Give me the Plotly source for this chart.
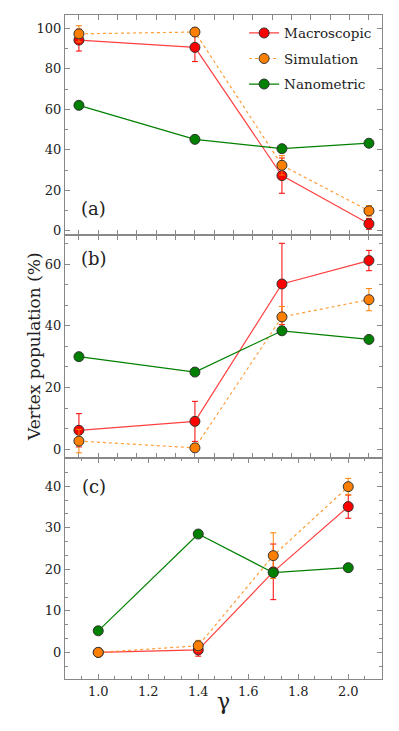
import plotly.graph_objects as go
from plotly.subplots import make_subplots

gamma = [1.0, 1.4, 1.7, 2.0]

# panel (a)
macro_a = [94.2, 90.6, 27.3, 3.5]
macro_a_err = [5.4, 7.0, 8.7, 2.7]
sim_a = [97.3, 98.2, 32.4, 9.9]
sim_a_err = [4.0, 2.0, 4.8, 2.6]
nano_a = [62.0, 45.2, 40.6, 43.3]

# panel (b)
macro_b = [6.1, 9.0, 53.6, 61.2]
macro_b_err = [5.4, 6.5, 13.2, 3.3]
sim_b = [2.6, 0.4, 42.9, 48.5]
sim_b_err = [3.8, 0.5, 3.4, 3.6]
nano_b = [30.0, 25.0, 38.4, 35.6]

# panel (c)
macro_c = [0.0, 0.6, 19.4, 35.1]
macro_c_err = [0.0, 1.5, 6.7, 2.8]
sim_c = [0.0, 1.6, 23.3, 39.9]
sim_c_err = [0.0, 1.3, 5.5, 2.0]
nano_c = [5.2, 28.5, 19.2, 20.4]

panels = [
    ("(a)", macro_a, macro_a_err, sim_a, sim_a_err, nano_a),
    ("(b)", macro_b, macro_b_err, sim_b, sim_b_err, nano_b),
    ("(c)", macro_c, macro_c_err, sim_c, sim_c_err, nano_c),
]

RED = "#ff0000"
ORANGE = "#ff8000"
GREEN = "#008000"
FONT = "DejaVu Serif"

fig = make_subplots(rows=3, cols=1, vertical_spacing=0)

for i, (lab, mac, mac_e, sim, sim_e, nano) in enumerate(panels):
    row = i + 1
    show = (i == 0)
    fig.add_trace(go.Scatter(
        x=gamma, y=mac, name="Macroscopic", mode="lines+markers", legendgroup="m",
        line=dict(color="rgba(255,0,0,0.75)", width=1.2),
        marker=dict(color=RED, size=10, line=dict(color="#333", width=1)),
        error_y=dict(type="data", array=mac_e, color=RED, thickness=1, width=3),
        showlegend=show, legendrank=1), row=row, col=1)
    fig.add_trace(go.Scatter(
        x=gamma, y=sim, name="Simulation", mode="lines+markers", legendgroup="s",
        line=dict(color="rgba(255,140,20,0.85)", width=1.2, dash="dot"),
        marker=dict(color=ORANGE, size=10, line=dict(color="#333", width=1)),
        error_y=dict(type="data", array=sim_e, color=ORANGE, thickness=1, width=3),
        showlegend=show, legendrank=2), row=row, col=1)
    fig.add_trace(go.Scatter(
        x=gamma, y=nano, name="Nanometric", mode="lines+markers", legendgroup="n",
        line=dict(color=GREEN, width=1.2),
        marker=dict(color=GREEN, size=10, line=dict(color="#333", width=1)),
        showlegend=show, legendrank=3), row=row, col=1)

# panel placement
dom = [[0.6687, 1.0], [0.3328, 0.6687], [0.0, 0.3328]]
yranges = [[-2.0, 106.6], [-2.9, 69.5], [-6.4, 46.8]]
yminor = [10, 20 / 3, 10 / 3]
label_x = [1.0, 1.0, 0.928]
label_y = [11, 62, 40]

axis_common = dict(
    showline=True, linecolor="#888", linewidth=1.2, mirror="ticks",
    ticks="inside", ticklen=5, tickcolor="#888", showgrid=False, zeroline=False,
    tickfont=dict(family=FONT, size=13, color="#222"),
)

for i in range(3):
    row = i + 1
    fig.update_yaxes(domain=dom[i], range=yranges[i], dtick=20 if i < 2 else 10,
                     minor=dict(dtick=yminor[i], ticks="inside", ticklen=3, tickcolor="#888"),
                     automargin=False, row=row, col=1, **axis_common)
    if i < 2:
        fig.update_xaxes(range=[0.952, 2.045], tick0=1.0, dtick=1 / 15, showticklabels=False,
                         automargin=False, row=row, col=1, **axis_common)
    else:
        fig.update_xaxes(range=[0.867, 2.135], tick0=1.0, dtick=0.2, tickformat=".1f",
                         minor=dict(dtick=0.2 / 3, ticks="inside", ticklen=3, tickcolor="#888"),
                         automargin=False, row=row, col=1, **axis_common)
    fig.add_annotation(text=panels[i][0], x=label_x[i], y=label_y[i],
                       xref=f"x{row}" if row > 1 else "x", yref=f"y{row}" if row > 1 else "y",
                       xanchor="left", yanchor="middle", showarrow=False,
                       font=dict(family=FONT, size=18, color="#222"))

# page body has an 8px margin, so the margins are shifted to compensate
fig.update_layout(
    width=399, height=731,
    margin=dict(l=57, r=25, t=7, b=60),
    plot_bgcolor="white", paper_bgcolor="white",
    font=dict(family=FONT, color="#222"),
    legend=dict(x=0.565, y=0.996, xref="paper", yref="paper", xanchor="left", yanchor="top",
                bgcolor="rgba(0,0,0,0)", font=dict(family=FONT, size=13.5, color="#222"),
                tracegroupgap=5, itemwidth=30),
    annotations=list(fig.layout.annotations) + [
        dict(text="Vertex population (%)", x=0.0, y=0.5, xref="paper", yref="paper",
             xshift=-43, textangle=-90, showarrow=False,
             font=dict(family=FONT, size=17, color="#222")),
        dict(text="γ", x=0.5, y=0.0, xref="paper", yref="paper", yshift=-37,
             showarrow=False, font=dict(family=FONT, size=22, color="#222")),
    ],
)

fig.write_html("out.html")
